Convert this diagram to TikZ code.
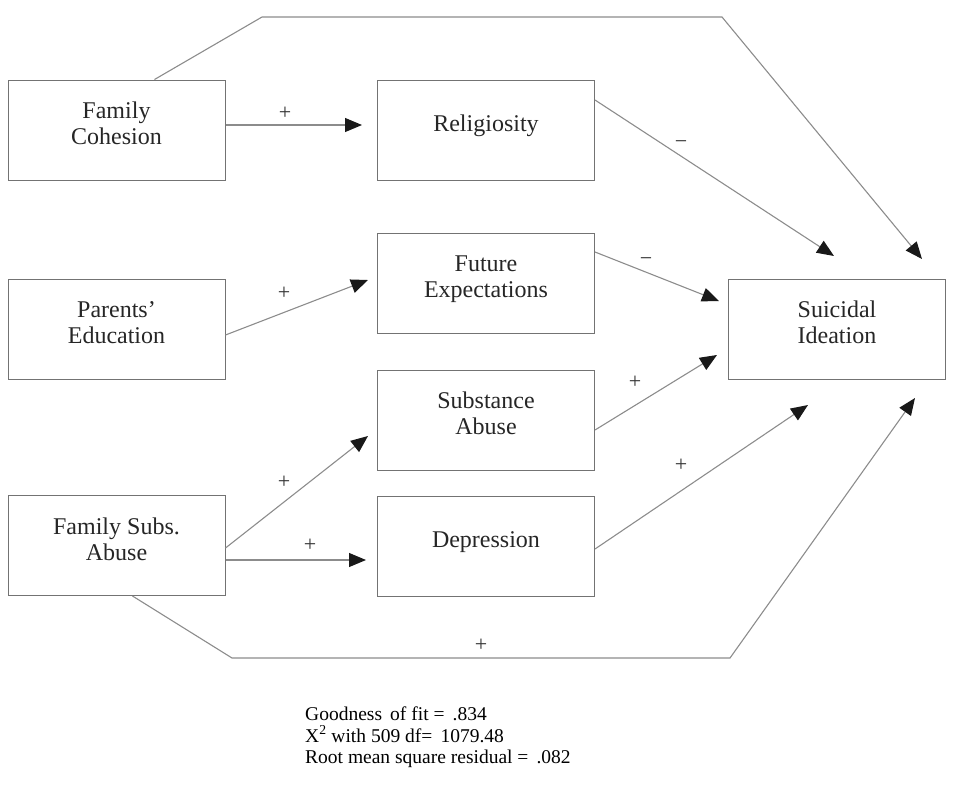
\documentclass[tikz,border=0pt]{standalone}
\usepackage{fontspec}
\setmainfont{Liberation Serif}
\usetikzlibrary{arrows.meta}
\begin{document}
\begin{tikzpicture}[x=1pt,y=-1pt,
  box/.style={draw=black!55,line width=1pt,minimum width=217pt,minimum height=100pt,align=center,font=\fontsize{24}{26}\selectfont,text=black!85,inner sep=0pt,text depth=13pt},
  conn/.style={draw=black!45,line width=1.1pt},
  arr/.style={conn,-{Triangle[length=17pt,width=14pt,color=black!90]}},
  sign/.style={font=\fontsize{22}{22}\selectfont,text=black!80,inner sep=0pt}]
\useasboundingbox (0,0) rectangle (959,785);
\node[box] (fc) at (116.5,130) {Family\\Cohesion};
\node[box] (rel) at (486,130) {Religiosity};
\node[box] (pe) at (116.5,329) {Parents'\\Education};
\node[box] (fe) at (486,283.5) {Future\\Expectations};
\node[box] (si) at (837,329) {Suicidal\\Ideation};
\node[box] (sa) at (486,420) {Substance\\Abuse};
\node[box] (fsa) at (116.5,545.5) {Family Subs.\\Abuse};
\node[box] (dep) at (486,546) {Depression};
% endpoints
\coordinate (t1) at (262,17);
\coordinate (t2) at (722,17);
\coordinate (e1) at (922,259);
\coordinate (b1) at (232,658);
\coordinate (b2) at (730,658);
\coordinate (e2) at (915,398);
\coordinate (er) at (834,256);
\coordinate (efe) at (719,301);
\coordinate (esa) at (717,355);
\coordinate (edep) at (808,405);
\coordinate (erel) at (362,125);
\coordinate (epe) at (368,280);
\coordinate (esa2) at (368,436);
\coordinate (edep2) at (366,560);
% connectors
\draw[arr] (fc.north west)++(147,0) coordinate (s1) -- (t1) -- (t2) -- (e1);
\draw[arr] (fc.east |- 0,125) -- (erel);
\draw[arr] (rel.east |- 0,100) -- (er);
\draw[arr] (pe.east |- 0,335) -- (epe);
\draw[arr] (fe.east |- 0,252) -- (efe);
\draw[arr] (sa.east |- 0,430) -- (esa);
\draw[arr] (dep.east |- 0,549) -- (edep);
\draw[arr] (fsa.east |- 0,548) -- (esa2);
\draw[arr] (fsa.east |- 0,560) -- (edep2);
\draw[arr] (fsa.south west)++(125,0) coordinate (s2) -- (b1) -- (b2) -- (e2);
% signs
\node[sign] at (285,113) {+};
\node[sign] at (681,145) {\textminus};
\node[sign] at (284,293) {+};
\node[sign] at (646,262) {\textminus};
\node[sign] at (635,382) {+};
\node[sign] at (681,465) {+};
\node[sign] at (284,482) {+};
\node[sign] at (310,545) {+};
\node[sign] at (481,645) {+};
% stats
\node[anchor=north west,align=left,inner sep=0pt,font=\fontsize{19.5}{21.5}\selectfont] (stats) at (305,707)
 {Goodness\, of fit = \,.834\\X\textsuperscript{2} with 509 df=\, 1079.48\\Root mean square residual = \,.082};
\end{tikzpicture}
\end{document}
